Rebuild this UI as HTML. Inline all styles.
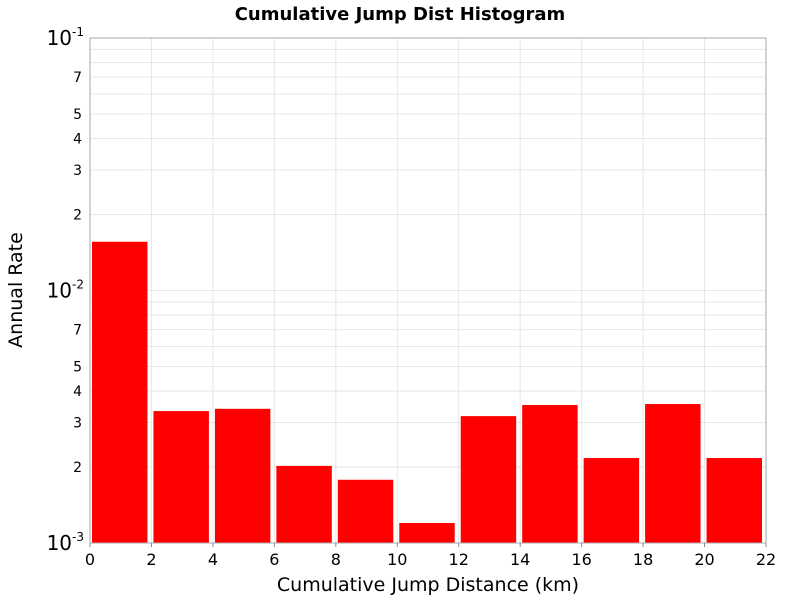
<!DOCTYPE html>
<html><head><meta charset="utf-8"><style>
body{margin:0;background:#fff;}
svg{display:block;font-family:"DejaVu Sans","Liberation Sans",sans-serif;}
</style></head><body>
<svg id="chart" width="800" height="600"></svg>
<script>
const binStarts=[0,2,4,6,8,10,12,14,16,18,20];
const binWidth=2;
const rates=[0.0156,0.00333,0.0034,0.00202,0.00178,0.0012,0.00318,0.00352,0.00217,0.00355,0.00217];
const xTicks=[0,2,4,6,8,10,12,14,16,18,20,22];
const minorLabels=[2,3,4,5,7];
const decades=[-3,-2,-1];

const NS="http://www.w3.org/2000/svg";
const svg=document.getElementById('chart');
const L=90,R=766,T=38,B=543;
const xMin=0,xMax=22,lMin=-3,lMax=-1;
function xs(v){return L+(v-xMin)/(xMax-xMin)*(R-L);}
function ys(v){return B-(Math.log10(v)-lMin)/(lMax-lMin)*(B-T);}
function mk(tag,attrs,name,text){const e=document.createElementNS(NS,tag);for(const k in attrs)e.setAttribute(k,attrs[k]);


if(text!==undefined)e.textContent=text;svg.appendChild(e);return e;}

mk('rect',{x:L,y:T,width:R-L,height:B-T,fill:'#fff',stroke:'none'},'plot-area');
// grid
for(let d=lMin;d<lMax;d++){for(let m=1;m<10;m++){const v=m*Math.pow(10,d);const y=ys(v);
mk('line',{x1:L,x2:R,y1:y,y2:y,stroke:'#e6e6e6','stroke-width':1},'y-grid-line');}}
for(const t of xTicks){mk('line',{x1:xs(t),x2:xs(t),y1:T,y2:B,stroke:'#e6e6e6','stroke-width':1},'x-grid-line');}
// bars
binStarts.forEach((s,i)=>{const x0=xs(s)+2,x1=xs(s+binWidth)-4;const y=ys(rates[i]);
mk('rect',{x:x0,y:y,width:x1-x0,height:B-y,fill:'#ff0000'},'bar-'+s+'-'+(s+binWidth));});
mk('rect',{x:L,y:T,width:R-L,height:B-T,fill:'none',stroke:'#aaaaaa'},'plot-border');
// x ticks
for(const t of xTicks){const x=xs(t);mk('line',{x1:x,x2:x,y1:B,y2:B+4,stroke:'#888'},'x-tick');
mk('text',{x:x,y:B+22,'text-anchor':'middle','font-size':16,fill:'#000'},'x-tick-label',String(t));}
// y ticks
for(const d of decades){const y=ys(Math.pow(10,d));
const t=mk('text',{x:L-6,y:y+7,'text-anchor':'end','font-size':20,fill:'#000'},'y-decade-label');
t.appendChild(document.createTextNode('10'));const sp=document.createElementNS(NS,'tspan');sp.setAttribute('dy',-9);sp.setAttribute('font-size',12);sp.textContent=String(d);t.appendChild(sp);}
for(let d=lMin;d<lMax;d++){for(const m of minorLabels){const y=ys(m*Math.pow(10,d));
mk('text',{x:L-8,y:y+5,'text-anchor':'end','font-size':14,fill:'#000'},'y-minor-label',String(m));}}
mk('text',{x:400,y:20,'text-anchor':'middle','font-size':18,'font-weight':'bold',fill:'#000'},'chart-title','Cumulative Jump Dist Histogram');
mk('text',{x:428,y:591,'text-anchor':'middle','font-size':19,fill:'#000'},'x-axis-title','Cumulative Jump Distance (km)');
mk('text',{x:22,y:290,'text-anchor':'middle','font-size':19,fill:'#000',transform:'rotate(-90 22 290)'},'y-axis-title','Annual Rate');
</script>
</body></html>
